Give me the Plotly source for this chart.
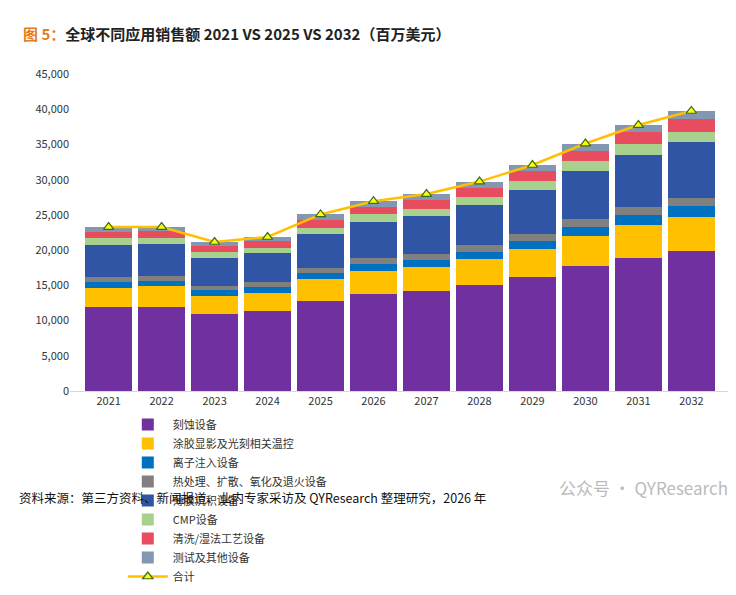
import plotly.graph_objects as go

years = ["2021","2022","2023","2024","2025","2026","2027","2028","2029","2030","2031","2032"]
etch = [11900,11900,10970,11320,12840,13780,14250,15080,16250,17780,18950,19890]
track = [2790,2940,2580,2580,3060,3290,3370,3640,3880,4230,4590,4820]
implant = [810,790,790,820,820,940,940,1060,1170,1290,1410,1530]
thermal = [750,700,620,710,790,830,940,940,940,1060,1170,1170]
depo = [4470,4500,3990,4110,4730,5160,5330,5630,6230,6810,7400,7880]
cmp_ = [940,870,790,790,940,1060,1050,1180,1290,1410,1530,1520]
clean = [940,1020,860,970,1060,1060,1290,1290,1410,1530,1650,1770]
test = [670,550,550,560,820,820,790,910,910,1020,1050,1170]

series = [
    ("刻蚀设备", etch, "#7030A0"),
    ("涂胶显影及光刻相关温控", track, "#FFC000"),
    ("离子注入设备", implant, "#0070C0"),
    ("热处理、扩散、氧化及退火设备", thermal, "#808080"),
    ("薄膜沉积设备", depo, "#2F55A4"),
    ("CMP设备", cmp_, "#A9D18E"),
    ("清洗/湿法工艺设备", clean, "#E84C5F"),
    ("测试及其他设备", test, "#8497B0"),
]
total = [sum(v) for v in zip(*[s[1] for s in series])]

fig = go.Figure()
for name, vals, col in series:
    fig.add_bar(x=years, y=vals, name=name, marker_color=col, marker_line_width=0)
fig.add_scatter(x=years, y=total, name="合计", mode="lines+markers",
                line=dict(color="#FFC000", width=2.5),
                marker=dict(symbol="triangle-up", size=9, color="#FFFF00",
                            line=dict(color="#3A6B1E", width=1.2)))

fig.update_layout(
    width=736, height=595, barmode="stack", bargap=0.12,
    paper_bgcolor="white", plot_bgcolor="white",
    font=dict(family="Noto Sans CJK SC", size=11, color="#333"),
    margin=dict(l=62, r=14, t=66, b=146),
    xaxis=dict(showline=True, linecolor="#D9D9D9", tickfont=dict(size=11)),
    yaxis=dict(range=[0,45000], dtick=5000, tickformat=",", showgrid=False,
               showline=False, tickfont=dict(size=11)),
    legend=dict(orientation="h", traceorder="normal", x=0.08, y=-0.06,
                xanchor="left", yanchor="top",
                entrywidth=285, entrywidthmode="pixels", tracegroupgap=0,
                font=dict(size=11), itemwidth=40),
    showlegend=True,
)
fig.add_annotation(xref="paper", yref="paper", x=-0.075, y=1.128, xanchor="left", yanchor="middle",
                   showarrow=False, align="left",
                   text="<b><span style='color:#E87A1E'>图 5：</span>全球不同应用销售额 2021 VS 2025 VS 2032（百万美元）</b>",
                   font=dict(size=15, color="#222", family="Noto Sans CJK SC"))
fig.add_annotation(xref="paper", yref="paper", x=-0.08, y=-0.337, xanchor="left", yanchor="middle",
                   showarrow=False,
                   text="资料来源：第三方资料、新闻报道、业内专家采访及 QYResearch 整理研究，2026 年",
                   font=dict(size=12.5, color="#111", family="Noto Sans CJK SC"))
fig.add_annotation(xref="paper", yref="paper", x=1.0, y=-0.305, xanchor="right", yanchor="middle",
                   showarrow=False, text="公众号 · QYResearch",
                   font=dict(size=17, color="#BBBBBB", family="Noto Sans CJK SC"))
fig.write_html("out.html")
